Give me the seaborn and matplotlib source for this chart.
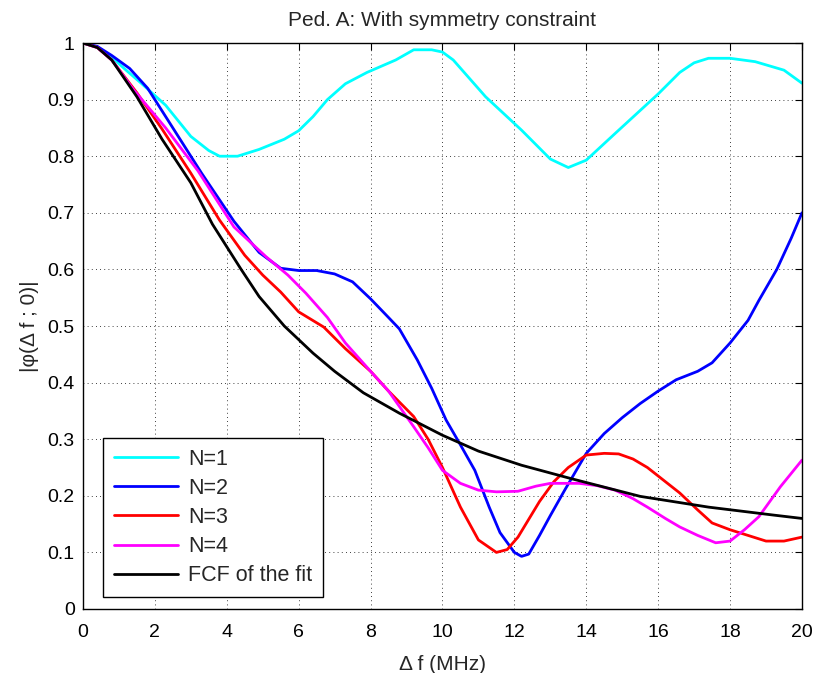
import pandas as pd
import matplotlib
matplotlib.use("Agg")
import matplotlib.pyplot as plt
import matplotlib.ticker as mticker
import seaborn as sns

# Values
n1_x = [0, 0.4, 0.8, 1.2, 1.6, 2.3, 3.0, 3.5, 3.8, 4.3, 4.9, 5.6, 6.0, 6.4, 6.8, 7.3, 7.9, 8.7,
        9.2, 9.7, 10.0, 10.3, 11.2, 12.2, 13.0, 13.5, 14.0, 14.8, 16.0, 16.6, 17.0, 17.4, 18.0,
        18.7, 19.5, 20.0]
n1_y = [1.0, 0.993, 0.975, 0.952, 0.93, 0.89, 0.835, 0.81, 0.80, 0.80, 0.812, 0.83, 0.845, 0.87,
        0.90, 0.928, 0.948, 0.97, 0.988, 0.988, 0.984, 0.97, 0.905, 0.846, 0.795, 0.78, 0.793,
        0.84, 0.91, 0.948, 0.965, 0.973, 0.973, 0.967, 0.952, 0.929]

n2_x = [0, 0.4, 0.8, 1.3, 1.8, 2.5, 3.3, 4.2, 4.9, 5.5, 6.0, 6.5, 7.0, 7.5, 8.0, 8.5, 8.8, 9.3,
        9.7, 10.1, 10.5, 10.9, 11.3, 11.6, 12.0, 12.2, 12.4, 12.7, 13.0, 13.4, 14.0, 14.5, 15.0,
        15.5, 16.0, 16.5, 17.1, 17.5, 18.0, 18.5, 18.8, 19.3, 19.7, 20.0]
n2_y = [1.0, 0.994, 0.978, 0.955, 0.92, 0.85, 0.77, 0.685, 0.63, 0.602, 0.598, 0.598, 0.592,
        0.578, 0.548, 0.515, 0.495, 0.44, 0.39, 0.334, 0.29, 0.245, 0.18, 0.135, 0.10, 0.093,
        0.097, 0.13, 0.165, 0.21, 0.275, 0.31, 0.338, 0.363, 0.385, 0.405, 0.42, 0.435, 0.47,
        0.51, 0.545, 0.6, 0.655, 0.70]

n3_x = [0, 0.4, 0.8, 1.5, 2.2, 3.0, 3.8, 4.5, 5.0, 5.5, 6.0, 6.7, 7.3, 8.0, 8.5, 9.2, 9.6, 10.0,
        10.5, 11.0, 11.5, 11.8, 12.1, 12.7, 13.1, 13.5, 14.0, 14.5, 14.9, 15.3, 15.7, 16.1, 16.6,
        17.1, 17.5, 18.0, 18.5, 19.0, 19.5, 20.0]
n3_y = [1.0, 0.992, 0.97, 0.912, 0.848, 0.77, 0.687, 0.625, 0.59, 0.56, 0.525, 0.498, 0.46, 0.42,
        0.385, 0.34, 0.30, 0.25, 0.18, 0.122, 0.10, 0.105, 0.127, 0.19, 0.225, 0.25, 0.272, 0.275,
        0.274, 0.265, 0.25, 0.23, 0.205, 0.175, 0.152, 0.14, 0.13, 0.12, 0.12, 0.127]

n4_x = [0, 0.4, 0.8, 1.4, 2.3, 3.2, 4.2, 5.1, 5.7, 6.2, 6.8, 7.3, 8.0, 8.5, 9.2, 9.6, 10.0, 10.5,
        11.0, 11.5, 12.1, 12.6, 13.0, 13.8, 14.3, 14.8, 15.3, 15.7, 16.2, 16.6, 17.1, 17.6, 18.0,
        18.4, 18.8, 19.4, 20.0]
n4_y = [1.0, 0.992, 0.97, 0.918, 0.85, 0.774, 0.675, 0.622, 0.59, 0.558, 0.515, 0.47, 0.42, 0.385,
        0.322, 0.285, 0.245, 0.222, 0.21, 0.207, 0.208, 0.217, 0.222, 0.222, 0.218, 0.21, 0.195,
        0.18, 0.16, 0.145, 0.13, 0.117, 0.12, 0.14, 0.163, 0.216, 0.263]

fit_x = [0, 0.4, 0.8, 1.5, 2.2, 3.0, 3.6, 4.4, 4.9, 5.6, 6.4, 7.0, 7.8, 8.8, 10.0, 11.0, 12.2,
         13.6, 15.5, 17.4, 19.2, 20.0]
fit_y = [1.0, 0.992, 0.97, 0.905, 0.83, 0.753, 0.68, 0.6, 0.552, 0.5, 0.452, 0.42, 0.382, 0.346,
         0.307, 0.279, 0.254, 0.23, 0.199, 0.18, 0.166, 0.16]

labels = ["N=1", "N=2", "N=3", "N=4", "FCF of the fit"]
colors = ["#00ffff", "#0000ff", "#ff0000", "#ff00ff", "#000000"]


def build_frame():
    parts = []
    for lab, xs, ys in zip(labels, [n1_x, n2_x, n3_x, n4_x, fit_x], [n1_y, n2_y, n3_y, n4_y, fit_y]):
        parts.append(pd.DataFrame({"df": xs, "phi": ys, "curve": lab}))
    return pd.concat(parts, ignore_index=True)


df = build_frame()

sns.set_style("white")
plt.rcParams["font.family"] = ["Liberation Sans", "DejaVu Sans"]

fig = plt.figure(figsize=(8.19, 6.73), dpi=100)
ax = fig.add_axes([0.1013, 0.0951, 0.8779, 0.8410])

sns.lineplot(data=df, x="df", y="phi", hue="curve", hue_order=labels,
             palette=dict(zip(labels, colors)), estimator=None, sort=True,
             linewidth=2.0, ax=ax)

ax.set_xlim(0, 20)
ax.set_ylim(0, 1)
ax.set_xticks(range(0, 21, 2))
ax.set_yticks([i / 10 for i in range(11)])
ax.yaxis.set_major_formatter(mticker.FuncFormatter(lambda v, p: f"{v:g}"))
ax.tick_params(direction="in", top=True, right=True, length=5, width=0.8,
               labelsize=14, colors="black", pad=6)
ax.tick_params(axis="x", pad=11)
ax.grid(True, color="black", linestyle=(0, (1, 4)), linewidth=0.6)
for sp in ax.spines.values():
    sp.set_color("black")
    sp.set_linewidth(1.0)

ax.set_title("Ped. A: With symmetry constraint", fontsize=15, pad=12)
ax.set_xlabel("\u0394 f (MHz)", fontsize=15, labelpad=10)
ax.set_ylabel("|\u03c6(\u0394 f ; 0)|", fontsize=15, labelpad=6)

leg = ax.legend(loc="lower left", bbox_to_anchor=(0.028, 0.021), fontsize=15.5,
                frameon=True, fancybox=False, edgecolor="black", framealpha=1,
                handlelength=3.0, borderpad=0.5, labelspacing=0.38, handletextpad=0.45,
                borderaxespad=0)
leg.get_frame().set_linewidth(1.0)

fig.savefig("out.png", dpi=100, facecolor="white")
